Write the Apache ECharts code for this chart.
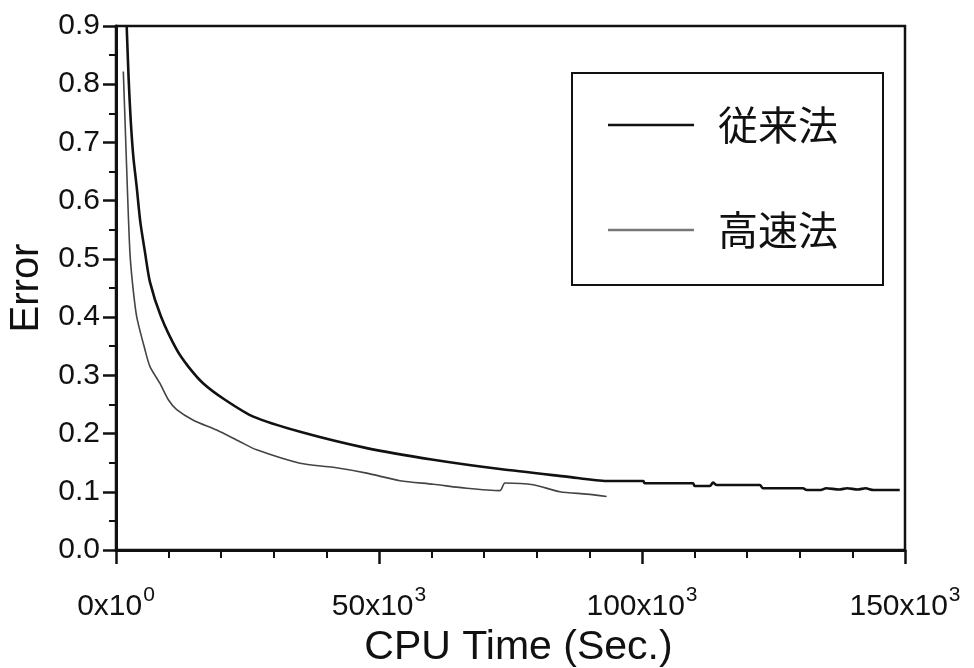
<!DOCTYPE html>
<html>
<head>
<meta charset="utf-8">
<script src="https://cdn.jsdelivr.net/npm/echarts@6/dist/echarts.min.js"></script>
<style>
  html, body { margin: 0; padding: 0; background: #fff; }
  #chart { width: 974px; height: 668px; }
</style>
</head>
<body>
<div id="chart"></div>
<script>
// Conventional method: CPU time (s) and error
const conventionalTime = [2030, 2400, 2790, 3300, 3930, 4600, 5500, 6460, 8550, 11540, 13750, 16600, 20720, 26100, 35000, 47660, 60320, 73000, 85680, 93300, 100250, 100500, 109700, 110000, 112900, 113500, 114200, 122400, 123000, 130600, 131300, 134000, 135000, 137500, 139000, 141000, 142500, 144000, 149000];
const conventionalError = [0.900, 0.810, 0.739, 0.675, 0.624, 0.565, 0.512, 0.460, 0.401, 0.344, 0.315, 0.286, 0.258, 0.229, 0.203, 0.175, 0.155, 0.139, 0.126, 0.1185, 0.1185, 0.1146, 0.1146, 0.110, 0.110, 0.1157, 0.1117, 0.1117, 0.106, 0.106, 0.103, 0.103, 0.106, 0.104, 0.106, 0.104, 0.106, 0.103, 0.103];

// Fast method: CPU time (s) and error
const fastTime = [1390, 1710, 2150, 2640, 3140, 3930, 5510, 6460, 8360, 9950, 11540, 14700, 19140, 23570, 26750, 34980, 41300, 47660, 54000, 60320, 66670, 73000, 73950, 79330, 84400, 89480, 93280];
const fastError = [0.822, 0.739, 0.624, 0.512, 0.458, 0.401, 0.344, 0.315, 0.286, 0.258, 0.241, 0.223, 0.206, 0.186, 0.172, 0.149, 0.142, 0.132, 0.119, 0.113, 0.106, 0.102, 0.115, 0.112, 0.100, 0.096, 0.092];

const seriesNames = ['従来法', '高速法'];
const xTicks = [0, 50000, 100000, 150000];

const zip = (xs, ys) => xs.map((x, i) => [x, ys[i]]);

const chart = echarts.init(document.getElementById('chart'));
const latin = 'Liberation Sans, Arial, sans-serif';
const ink = '#111';
const fastInk = '#444';

chart.setOption({
  animation: false,
  backgroundColor: '#fff',
  grid: {
    left: 116, right: 69, top: 26, bottom: 118,
    outerBoundsMode: 'none',
    show: true, borderColor: ink, borderWidth: 2.5, backgroundColor: 'transparent'
  },
  legend: {
    orient: 'vertical',
    left: 572, top: 73,
    padding: [31, 45, 34, 36],
    itemGap: 63,
    itemWidth: 86, itemHeight: 2.5,
    backgroundColor: '#fff',
    borderColor: ink, borderWidth: 2,
    borderRadius: 0,
    data: [
      { name: seriesNames[0], icon: 'rect', itemStyle: { color: ink } },
      { name: seriesNames[1], icon: 'rect', itemStyle: { color: '#777' } }
    ],
    textStyle: {
      fontFamily: 'Noto Sans CJK JP, sans-serif',
      fontSize: 40, lineHeight: 42, color: ink,
      padding: [0, 0, 0, 19]
    }
  },
  xAxis: {
    type: 'value',
    min: 0, max: 150000, interval: 50000,
    name: 'CPU Time (Sec.)',
    nameLocation: 'middle',
    nameGap: 56,
    nameTextStyle: { fontFamily: latin, fontSize: 41, color: ink, padding: [0, 0, 0, 16] },
    axisLine: { lineStyle: { color: ink, width: 3 } },
    axisTick: { show: true, inside: false, length: 14, lineStyle: { color: ink, width: 2.5 } },
    minorTick: { show: true, splitNumber: 5, length: 8, lineStyle: { color: ink, width: 2 } },
    splitLine: { show: false },
    axisLabel: {
      margin: 35,
      color: ink,
      fontFamily: latin,
      fontSize: 30,
      formatter: v => xTicks.includes(v) ? (v === 0 ? '0x10{s|0}' : (v / 1000) + 'x10{s|3}') : '',
      rich: {
        s: { fontFamily: latin, fontSize: 21, color: ink, verticalAlign: 'top', lineHeight: 44, padding: [0, 0, 0, 1] }
      }
    }
  },
  yAxis: {
    type: 'value',
    min: 0, max: 0.9, interval: 0.1,
    name: 'Error',
    nameLocation: 'middle',
    nameGap: 65,
    nameTextStyle: { fontFamily: latin, fontSize: 40, color: ink },
    axisLine: { show: true, lineStyle: { color: ink, width: 3 } },
    axisTick: { show: true, inside: false, length: 13, lineStyle: { color: ink, width: 2.5 } },
    minorTick: { show: true, splitNumber: 2, length: 7, lineStyle: { color: ink, width: 2 } },
    splitLine: { show: false },
    axisLabel: {
      margin: 16,
      color: ink,
      fontFamily: latin,
      fontSize: 30,
      formatter: v => v.toFixed(1)
    }
  },
  series: [
    {
      name: seriesNames[0],
      type: 'line',
      data: zip(conventionalTime, conventionalError),
      showSymbol: false, symbol: 'none',
      smooth: 0.25,
      clip: true,
      lineStyle: { color: ink, width: 2.6 },
      itemStyle: { color: ink }
    },
    {
      name: seriesNames[1],
      type: 'line',
      data: zip(fastTime, fastError),
      showSymbol: false, symbol: 'none',
      smooth: 0.25,
      clip: true,
      lineStyle: { color: fastInk, width: 1.6 },
      itemStyle: { color: fastInk }
    }
  ]
});
</script>
</body>
</html>
